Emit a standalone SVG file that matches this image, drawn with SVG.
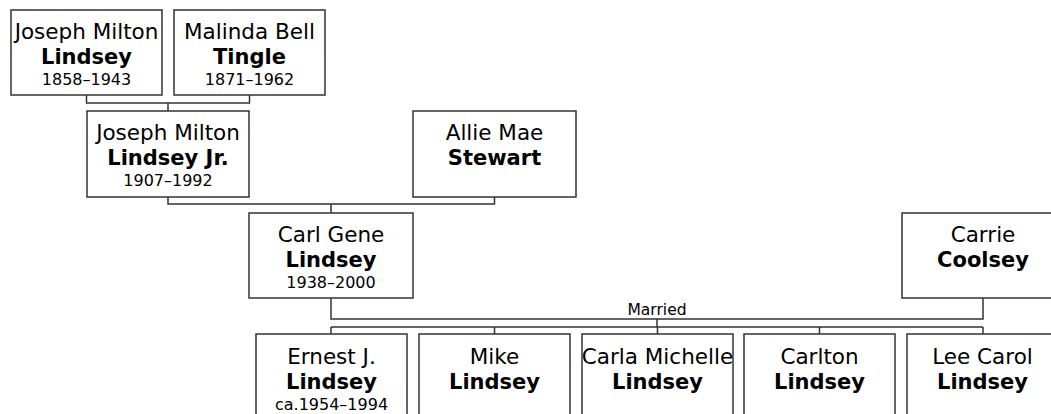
<svg xmlns="http://www.w3.org/2000/svg" width="1051" height="414" viewBox="0 0 1051 414">
<style>
.box{fill:#fff;stroke:#333;stroke-width:1.5}
.ln{fill:none;stroke:#333;stroke-width:1.5}
text{font-family:"DejaVu Sans",Verdana,sans-serif;fill:#000;text-anchor:middle}
.n{font-size:21.5px}
.b{font-size:21px;font-weight:bold}
.y{font-size:16px}
.m{font-size:15.5px}
</style>
<rect width="1051" height="414" fill="#fff"/>
<g id="connectors" class="ln">
<path d="M86.5 95V103H249.5V95M168 103V111"/>
<path d="M168 197V204H494.5V197M331 204V213"/>
<path d="M331 298V319H983V298"/>
<path d="M331 327H983M657 319V327"/>
<path d="M331 327V334M494.5 327V334M657.5 327V334M819.5 327V334M983 327V334"/>
<text class="m" x="657" y="315" stroke="none">Married</text>
</g>
<g id="n1"><rect class="box" x="11" y="10" width="151" height="85"/>
<text class="n" x="86.5" y="39">Joseph Milton</text><text class="b" x="86.5" y="64">Lindsey</text><text class="y" x="86.5" y="85">1858–1943</text></g>
<g id="n2"><rect class="box" x="174" y="10" width="151" height="85"/>
<text class="n" x="249.5" y="39">Malinda Bell</text><text class="b" x="249.5" y="64">Tingle</text><text class="y" x="249.5" y="85">1871–1962</text></g>
<g id="n3"><rect class="box" x="87" y="111" width="162" height="86"/>
<text class="n" x="168" y="140">Joseph Milton</text><text class="b" x="168" y="165">Lindsey Jr.</text><text class="y" x="168" y="186">1907–1992</text></g>
<g id="n4"><rect class="box" x="413" y="111" width="163" height="86"/>
<text class="n" x="494.5" y="140">Allie Mae</text><text class="b" x="494.5" y="165">Stewart</text></g>
<g id="n5"><rect class="box" x="249" y="213" width="164" height="85"/>
<text class="n" x="331" y="242">Carl Gene</text><text class="b" x="331" y="267">Lindsey</text><text class="y" x="331" y="288">1938–2000</text></g>
<g id="n6"><rect class="box" x="902" y="213" width="162" height="85"/>
<text class="n" x="983" y="242">Carrie</text><text class="b" x="983" y="267">Coolsey</text></g>
<g id="n7"><rect class="box" x="256" y="334" width="151" height="90"/>
<text class="n" x="331.5" y="364">Ernest J.</text><text class="b" x="331.5" y="389">Lindsey</text><text class="y" x="331.5" y="410">ca.1954–1994</text></g>
<g id="n8"><rect class="box" x="419" y="334" width="151" height="90"/>
<text class="n" x="494.5" y="364">Mike</text><text class="b" x="494.5" y="389">Lindsey</text></g>
<g id="n9"><rect class="box" x="582" y="334" width="151" height="90"/>
<text class="n" x="657.5" y="364">Carla Michelle</text><text class="b" x="657.5" y="389">Lindsey</text></g>
<g id="n10"><rect class="box" x="744" y="334" width="151" height="90"/>
<text class="n" x="819.5" y="364">Carlton</text><text class="b" x="819.5" y="389">Lindsey</text></g>
<g id="n11"><rect class="box" x="907" y="334" width="151" height="90"/>
<text class="n" x="982.5" y="364">Lee Carol</text><text class="b" x="982.5" y="389">Lindsey</text></g>
</svg>
